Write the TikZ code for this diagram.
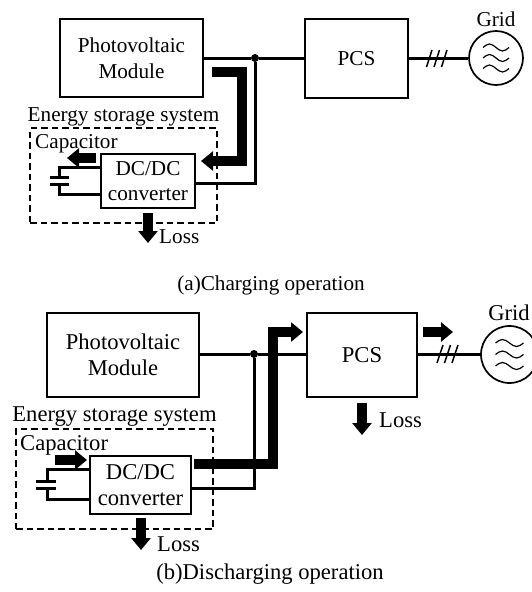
\documentclass[tikz,border=0pt]{standalone}
\usepackage{fontspec}
\setmainfont{Liberation Serif}
\usetikzlibrary{arrows.meta}
\tikzset{
    txtA/.style={font=\fontsize{21.2}{25.5}\selectfont, inner sep=0pt, align=center},
    txtB/.style={font=\fontsize{22.6}{26.5}\selectfont, inner sep=0pt, align=center},
    boxed/.style={draw, line width=1.7pt, inner sep=0pt, align=center},
    wire/.style={line width=3pt},
    flow/.style={line width=10pt, -{Triangle[length=12pt,width=19pt]}},
    frame/.style={draw, line width=1.6pt, dash pattern=on 6.5pt off 4pt},
    dotted node/.style={circle, fill, inner sep=0pt, minimum size=8pt},
    gridsrc/.style={circle, draw, line width=1.7pt, inner sep=0pt},
    wave/.style={line width=1.2pt}
}
\begin{document}
\begin{tikzpicture}[x=1pt, y=-1pt]
    \useasboundingbox (0,0) rectangle (531,592);

    % Charging operation: blocks
    \node[boxed, txtA, minimum width=143pt, minimum height=78pt] (pvA) at (131.5,58) {Photovoltaic\\Module};
    \node[boxed, txtA, minimum width=103pt, minimum height=79pt] (pcsA) at (356.5,58.5) {PCS};
    \node[gridsrc, minimum size=54pt] (gridA) at (496,58) {};
    \node[txtA] (gridlabelA) at (496,19) {Grid};
    \node[boxed, txtA, minimum width=94pt, minimum height=54pt] (dcA) at (148,181) {DC/DC\\converter};
    \node[frame, minimum width=187pt, minimum height=95pt] (essA) at (123.5,175.5) {};
    \node[txtA] (esslabelA) at (123.5,117) {Energy storage system};
    \node[txtA, anchor=west] (caplabelA) at (35,144) {Capacitor};
    \node[dotted node] (junA) at (255,58) {};

    % Charging operation: wires
    \draw[wire] (pvA.east |- junA) -- (junA) -- (pcsA.west |- junA);
    \draw[wire] (pcsA.east |- gridA) -- (gridA.west);
    \coordinate (dcinA) at (dcA.east |- 0,183);
    \draw[wire] (junA) |- (dcinA);
    \foreach \xx in {426.5,434,441.5}
        \draw[line width=1.5pt] (\xx,67) -- (\xx+5.5,50);
    \foreach \dy in {-10.5,0,10.5}
        \draw[wave, shift={(gridA)}] (-13,\dy) sin (-6.5,\dy-3.5) cos (0,\dy) sin (6.5,\dy+3.5) cos (13,\dy);

    % Charging operation: capacitor
    \coordinate (plateoneA) at (59,177);
    \coordinate (platetwoA) at (59,184);
    \draw[wire] (dcA.west |- 0,167) -| (plateoneA);
    \draw[wire] (dcA.west |- 0,194) -| (platetwoA);
    \draw[wire] (50,177) -- (69,177);
    \draw[wire] (50,184) -- (69,184);

    % Charging operation: power flow
    \coordinate (flowsA) at (212,72);
    \draw[flow] (flowsA) -- (242,72) -- (242,161) -- (201,161);
    \draw[flow] (96,158) -- (67,158);
    \draw[flow] (148,213) -- (148,243);
    \node[txtA, anchor=west] (lossA) at (159,237) {Loss};
    \node[txtA] (captionA) at (271,285) {(a)Charging operation};

    % Discharging operation: blocks
    \node[boxed, txtB, minimum width=152pt, minimum height=84pt] (pvB) at (123,355) {Photovoltaic\\Module};
    \node[boxed, txtB, minimum width=110pt, minimum height=84pt] (pcsB) at (362,355) {PCS};
    \node[gridsrc, minimum size=57pt] (gridB) at (509.5,354.5) {};
    \node[txtB] (gridlabelB) at (509,313) {Grid};
    \node[boxed, txtB, minimum width=101pt, minimum height=58pt] (dcB) at (140.5,485) {DC/DC\\converter};
    \node[frame, minimum width=197pt, minimum height=100pt] (essB) at (114.5,479) {};
    \node[txtB] (esslabelB) at (114.5,417) {Energy storage system};
    \node[txtB, anchor=west] (caplabelB) at (20,445) {Capacitor};
    \node[dotted node] (junB) at (254,354) {};

    % Discharging operation: wires
    \draw[wire] (pvB.east |- junB) -- (junB) -- (pcsB.west |- junB);
    \draw[wire] (pcsB.east |- gridB) -- (gridB.west);
    \coordinate (dcinB) at (dcB.east |- 0,488);
    \draw[wire] (junB) |- (dcinB);
    \foreach \xx in {437,444.5,452}
        \draw[line width=1.5pt] (\xx,363) -- (\xx+6,345);
    \foreach \dy in {-11.5,0,11.5}
        \draw[wave, shift={(gridB)}] (-14,\dy) sin (-7,\dy-3.5) cos (0,\dy) sin (7,\dy+3.5) cos (14,\dy);

    % Discharging operation: capacitor
    \coordinate (plateoneB) at (47,481);
    \coordinate (platetwoB) at (47,488);
    \draw[wire] (dcB.west |- 0,469) -| (plateoneB);
    \draw[wire] (dcB.west |- 0,499) -| (platetwoB);
    \draw[wire] (36,481) -- (56,481);
    \draw[wire] (36,488) -- (56,488);

    % Discharging operation: power flow
    \coordinate (flowsB) at (194,463.5);
    \draw[flow] (flowsB) -- (272.5,463.5) -- (272.5,332) -- (303,332);
    \draw[flow] (55,460) -- (87,460);
    \draw[flow] (423,332) -- (453,332);
    \draw[flow] (362,403) -- (362,435);
    \draw[flow] (141,518) -- (141,550);
    \node[txtB, anchor=west] (lossBa) at (379,420) {Loss};
    \node[txtB, anchor=west] (lossBb) at (157,544) {Loss};
    \node[txtB] (captionB) at (270,574) {(b)Discharging operation};
\end{tikzpicture}
\end{document}
